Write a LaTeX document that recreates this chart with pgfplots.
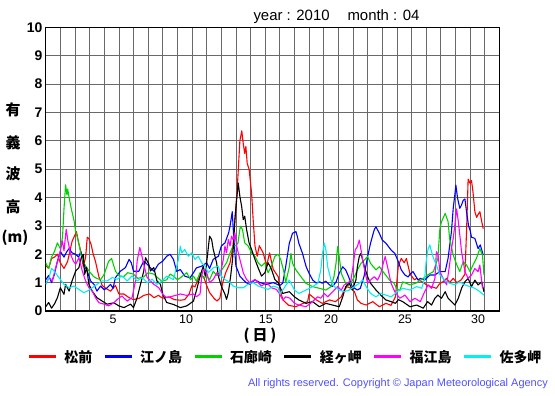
\documentclass[border=0pt]{standalone}
\usepackage{fontspec}
\setmainfont{Liberation Sans}
\newfontfamily\jp{Noto Sans CJK JP}
\usepackage{pgfplots}
\pgfplotsset{compat=1.18}
\definecolor{sred}{RGB}{255,0,0}
\definecolor{sblue}{RGB}{0,0,255}
\definecolor{sgreen}{RGB}{0,210,0}
\definecolor{sblack}{RGB}{0,0,0}
\definecolor{smag}{RGB}{255,0,255}
\definecolor{scyan}{RGB}{0,240,240}
\definecolor{gridc}{RGB}{105,105,105}
\definecolor{copyc}{RGB}{80,80,255}
\begin{document}
\begin{tikzpicture}[x=1bp,y=1bp]
\path[use as bounding box] (0,0) rectangle (555,395);
\begin{axis}[
  at={(45.7bp,84bp)}, anchor=south west,
  width=453.6bp, height=283.7bp, scale only axis,
  xmin=0, xmax=31, ymin=0, ymax=10,
  xtick={4.6,9.6,15.05,19.5,24.55,29.55}, xticklabels={5,10,15,20,25,30},
  minor xtick={1,...,30},
  ytick={0,...,10},
  xmajorgrids=false, xminorgrids=true, ymajorgrids=true,
  grid style={draw=gridc, line width=0.7bp},
  minor grid style={draw=gridc, line width=0.7bp},
  major tick length=0pt, minor tick length=0pt,
  axis line style={line width=1.3bp},
  /pgf/number format/assume math mode=true,
  xticklabel style={font=\fontsize{12.5}{13}\selectfont, anchor=north, inner sep=0pt, yshift=-4bp},
  yticklabel style={font=\bfseries\fontsize{14}{14}\selectfont, anchor=east, inner sep=0pt, xshift=-3bp},
  legend columns=6,
  legend style={at={(-0.041,-0.162)}, anchor=west, draw=none, fill=none, inner sep=0pt,
    font=\jp\bfseries\fontsize{14}{14}\selectfont,
    nodes={inner sep=0pt},
    /tikz/every odd column/.append style={column sep=7bp},
    /tikz/every even column/.append style={column sep=11bp}},
  legend image code/.code={\draw[line width=3bp] (0bp,0bp) -- (27bp,0bp);},
  every axis plot/.append style={line width=1.1bp, line join=round},
]
\addplot[sred] coordinates {
(0.0,1.6)(0.2,1.5)(0.4,1.85)(0.6,1.9)(0.8,2.0)(1.0,1.7)(1.25,1.5)(1.5,1.75)(1.8,2.45)(2.1,2.8)(2.25,2.4)(2.4,2.1)(2.57,1.55)(2.73,1.9)(2.84,2.6)(2.95,2.55)(3.1,2.35)(3.25,2.0)(3.4,1.75)(3.64,1.2)(3.86,0.9)(4.1,0.8)(4.43,0.7)(4.77,0.9)(5.0,0.6)(5.34,0.6)(5.7,0.47)(6.0,0.4)(6.4,0.45)(6.7,0.55)(7.1,0.6)(7.4,0.47)(7.7,0.55)(8.0,0.45)(8.4,0.5)(8.8,0.4)(9.2,0.38)(9.5,0.4)(9.8,0.6)(10.0,0.9)(10.2,0.85)(10.4,1.1)(10.6,1.25)(10.8,1.2)(11.0,0.9)(11.2,0.65)(11.5,0.45)(11.7,0.35)(11.9,0.45)(12.1,1.0)(12.3,1.35)(12.6,1.7)(12.8,2.3)(12.93,3.2)(13.1,4.4)(13.27,6.0)(13.4,6.35)(13.5,5.9)(13.6,5.55)(13.68,5.8)(13.77,5.2)(13.9,5.0)(14.07,4.16)(14.18,3.2)(14.3,2.3)(14.45,1.93)(14.6,2.3)(14.86,2.05)(15.1,1.6)(15.3,2.05)(15.55,1.47)(15.9,1.2)(16.0,0.8)(16.2,0.4)(16.6,0.2)(17.1,0.15)(17.5,0.25)(17.9,0.33)(18.0,0.6)(18.5,0.39)(18.9,0.27)(19.4,0.39)(19.8,0.33)(20.2,0.5)(20.4,0.74)(20.6,0.86)(20.85,0.8)(21.1,0.68)(21.3,0.39)(21.55,0.27)(21.9,0.21)(22.35,0.33)(22.8,0.15)(23.25,0.27)(23.6,0.2)(23.9,0.5)(24.1,1.6)(24.3,1.85)(24.5,1.7)(24.65,1.85)(24.9,1.3)(25.2,1.1)(25.35,1.15)(25.8,1.0)(26.1,0.9)(26.4,0.85)(26.7,0.8)(26.9,0.95)(27.2,1.05)(27.4,1.15)(27.6,1.0)(27.85,1.15)(28.1,1.0)(28.4,1.1)(28.65,1.3)(28.76,2.8)(28.87,4.65)(29.0,4.5)(29.1,4.6)(29.2,4.2)(29.33,3.5)(29.45,3.3)(29.55,3.4)(29.67,3.5)(29.8,3.15)(29.9,2.9)
};
\addlegendentry{松前}
\addplot[sblue] coordinates {
(0.0,1.1)(0.2,1.25)(0.4,1.0)(0.6,1.3)(0.8,1.76)(1.0,2.1)(1.25,1.9)(1.45,2.1)(1.6,2.2)(1.8,2.05)(2.05,2.0)(2.25,1.9)(2.4,2.1)(2.6,1.65)(2.84,1.4)(3.07,1.06)(3.3,0.94)(3.5,0.7)(3.75,0.88)(4.0,0.75)(4.2,0.82)(4.43,0.94)(4.6,0.8)(4.77,1.18)(5.1,1.4)(5.45,1.53)(5.7,1.82)(5.85,1.7)(6.0,1.4)(6.36,1.4)(6.7,1.76)(6.93,1.65)(7.2,1.5)(7.4,1.4)(7.7,1.65)(8.0,1.76)(8.27,1.93)(8.5,2.0)(8.73,1.82)(8.95,1.4)(9.2,1.46)(9.5,1.23)(9.86,1.17)(10.1,1.35)(10.3,1.52)(10.66,1.58)(11.0,1.7)(11.2,1.5)(11.45,1.82)(11.8,1.93)(12.0,2.29)(12.25,2.4)(12.5,2.75)(12.6,3.0)(12.75,3.5)(12.85,2.6)(12.93,2.05)(13.0,1.58)(13.1,1.46)(13.27,1.23)(13.5,1.1)(13.7,1.0)(13.95,0.94)(14.3,1.1)(14.64,1.0)(15.1,0.94)(15.55,1.0)(16.0,0.9)(16.2,0.98)(16.4,1.56)(16.65,2.39)(16.87,2.74)(17.1,2.8)(17.2,2.62)(17.3,2.39)(17.55,2.03)(17.8,1.56)(18.0,1.33)(18.25,1.09)(18.5,0.98)(18.7,1.03)(18.9,0.98)(19.15,1.05)(19.4,0.92)(19.6,0.86)(19.85,1.03)(20.06,1.33)(20.3,1.56)(20.5,1.45)(20.7,1.21)(20.95,0.86)(21.3,0.74)(21.5,0.8)(21.75,1.21)(22.0,1.92)(22.2,2.39)(22.45,2.86)(22.57,2.97)(22.8,2.74)(23.0,2.5)(23.25,2.39)(23.6,2.15)(23.86,2.03)(24.05,1.8)(24.3,1.45)(24.55,1.27)(24.77,1.2)(24.9,1.3)(25.1,1.39)(25.45,1.09)(25.6,1.15)(25.9,1.09)(26.25,1.27)(26.6,1.27)(26.94,1.39)(27.3,1.39)(27.5,1.86)(27.73,2.8)(27.85,3.62)(27.96,4.09)(28.03,4.44)(28.15,3.97)(28.3,3.62)(28.42,3.74)(28.53,3.9)(28.65,3.95)(28.76,3.5)(28.9,3.0)(29.0,2.85)(29.1,2.6)(29.33,2.56)(29.55,2.2)(29.7,2.33)(29.9,1.97)
};
\addlegendentry{江ノ島}
\addplot[sgreen] coordinates {
(0.0,1.7)(0.2,1.5)(0.4,1.9)(0.6,2.1)(0.8,2.4)(1.0,2.2)(1.15,2.6)(1.25,3.6)(1.36,4.45)(1.45,4.1)(1.5,4.3)(1.6,4.0)(1.75,3.6)(1.93,3.2)(2.05,2.8)(2.16,2.6)(2.3,2.3)(2.4,2.0)(2.6,1.7)(2.84,1.5)(3.05,1.35)(3.3,1.2)(3.5,1.15)(3.75,1.1)(4.0,1.3)(4.3,1.75)(4.5,1.85)(4.65,1.6)(4.77,1.4)(5.0,1.25)(5.3,1.2)(5.6,1.35)(6.0,1.3)(6.3,1.15)(6.7,1.2)(7.0,1.35)(7.4,1.3)(7.7,1.15)(7.95,1.05)(8.27,1.1)(8.5,1.3)(8.73,1.23)(9.0,1.1)(9.2,1.17)(9.64,1.35)(9.9,1.1)(10.1,1.23)(10.3,1.05)(10.55,1.35)(10.8,1.15)(11.0,1.23)(11.2,1.1)(11.45,1.4)(11.7,1.25)(11.9,1.35)(12.1,1.5)(12.36,1.7)(12.6,2.05)(12.8,2.29)(13.0,2.3)(13.14,2.4)(13.3,2.99)(13.45,2.87)(13.6,2.4)(13.84,2.29)(14.07,2.05)(14.3,1.93)(14.52,1.7)(14.75,1.58)(14.98,1.7)(15.2,1.35)(15.43,1.58)(15.66,1.93)(15.89,2.0)(16.07,1.8)(16.3,1.33)(16.4,1.0)(16.65,1.56)(16.76,2.03)(16.87,1.68)(17.1,1.45)(17.44,1.21)(17.78,0.98)(18.24,0.86)(18.7,0.8)(19.15,0.74)(19.5,0.86)(19.7,1.21)(19.84,1.68)(19.95,2.27)(20.06,1.92)(20.2,1.33)(20.4,1.09)(20.6,0.86)(20.85,0.98)(21.1,1.21)(21.3,1.45)(21.55,1.68)(21.78,1.8)(22.0,1.92)(22.2,1.68)(22.57,1.45)(22.8,1.56)(23.14,1.33)(23.5,1.09)(23.8,0.98)(24.0,0.78)(24.2,0.72)(24.4,1.03)(24.9,0.92)(25.3,0.98)(25.8,1.15)(26.1,1.27)(26.5,1.39)(26.8,1.86)(26.94,2.91)(27.05,3.15)(27.3,3.44)(27.5,3.15)(27.6,2.56)(27.85,1.97)(28.1,1.62)(28.3,1.39)(28.53,1.74)(28.76,1.62)(29.0,1.39)(29.2,1.62)(29.44,1.86)(29.67,2.2)(29.85,1.97)(29.95,1.27)
};
\addlegendentry{石廊崎}
\addplot[sblack] coordinates {
(0.0,0.15)(0.2,0.3)(0.4,0.1)(0.6,0.25)(0.8,0.47)(1.0,0.82)(1.25,0.59)(1.36,0.94)(1.6,0.7)(1.8,1.06)(2.05,1.41)(2.27,1.53)(2.43,1.88)(2.57,2.0)(2.66,1.29)(2.8,1.53)(2.95,0.94)(3.18,0.7)(3.5,0.47)(3.86,0.35)(4.2,0.24)(4.66,0.29)(5.0,0.18)(5.34,0.12)(5.8,0.24)(6.0,0.12)(6.25,0.47)(6.48,0.94)(6.7,1.41)(6.82,1.88)(7.05,1.65)(7.16,1.41)(7.39,1.53)(7.6,1.06)(7.84,0.94)(8.0,0.59)(8.27,0.3)(8.73,0.23)(9.2,0.12)(9.64,0.18)(10.1,0.35)(10.32,0.76)(10.55,1.23)(10.77,1.58)(10.9,1.23)(11.1,2.17)(11.2,2.64)(11.34,2.52)(11.45,2.17)(11.68,1.7)(11.8,1.23)(12.0,0.88)(12.25,0.59)(12.36,0.41)(12.48,0.64)(12.64,1.23)(12.77,1.82)(12.93,3.22)(13.05,3.93)(13.16,4.51)(13.27,4.04)(13.39,3.69)(13.5,3.22)(13.6,3.34)(13.73,2.87)(13.9,2.4)(14.07,2.17)(14.3,1.82)(14.52,1.52)(14.75,1.23)(14.98,1.35)(15.2,1.7)(15.43,1.47)(15.66,1.11)(15.89,1.0)(16.0,0.86)(16.2,0.62)(16.65,0.68)(17.0,0.5)(17.3,0.39)(17.8,0.27)(18.24,0.33)(18.7,0.15)(19.15,0.27)(19.6,0.21)(20.06,0.15)(20.3,0.5)(20.5,0.86)(20.75,0.98)(20.95,0.74)(21.2,1.09)(21.3,1.56)(21.43,1.92)(21.55,2.03)(21.66,1.8)(21.78,1.56)(22.0,1.21)(22.2,0.98)(22.57,0.74)(22.9,0.56)(23.25,0.39)(23.6,0.33)(23.9,0.27)(24.1,0.4)(24.4,0.33)(24.9,0.15)(25.35,0.21)(25.8,0.1)(26.1,0.33)(26.37,0.21)(26.6,0.45)(26.8,0.56)(27.05,0.45)(27.3,0.68)(27.5,0.45)(27.73,0.33)(27.96,0.21)(28.2,0.45)(28.42,0.8)(28.65,1.03)(28.87,1.15)(29.1,0.86)(29.33,1.09)(29.55,0.92)(29.8,1.03)(29.95,0.68)
};
\addlegendentry{経ヶ岬}
\addplot[smag] coordinates {
(0.0,0.94)(0.23,1.18)(0.45,1.05)(0.68,1.53)(0.9,1.88)(1.14,2.47)(1.25,2.12)(1.4,2.88)(1.52,2.47)(1.7,2.0)(1.89,1.76)(2.05,1.65)(2.27,1.88)(2.5,1.41)(2.73,1.06)(2.95,0.82)(3.18,0.7)(3.4,0.47)(3.64,0.29)(4.0,0.24)(4.3,0.18)(4.66,0.29)(4.9,0.41)(5.2,0.53)(5.57,0.35)(5.9,0.47)(6.14,1.06)(6.25,1.76)(6.43,2.24)(6.52,2.06)(6.7,1.65)(6.93,1.18)(7.16,1.06)(7.39,0.94)(7.73,0.82)(8.0,0.59)(8.27,0.47)(8.73,0.53)(9.2,0.6)(9.64,0.55)(10.1,0.6)(10.3,0.5)(10.55,0.6)(10.66,1.23)(10.77,1.47)(11.0,1.35)(11.2,1.0)(11.45,1.11)(11.7,1.35)(11.9,1.23)(12.14,1.82)(12.25,2.29)(12.36,2.05)(12.48,2.52)(12.6,2.29)(12.7,2.64)(12.8,2.52)(12.93,2.75)(13.05,2.29)(13.16,2.05)(13.27,1.82)(13.39,1.58)(13.5,1.35)(13.73,1.11)(13.95,1.0)(14.3,1.11)(14.52,1.0)(14.75,0.88)(15.1,1.0)(15.43,0.82)(15.77,0.76)(16.0,0.59)(16.2,0.39)(16.4,0.5)(16.7,0.45)(17.0,0.27)(17.3,0.21)(17.78,0.15)(18.1,0.27)(18.36,0.39)(18.58,0.5)(18.8,0.45)(19.04,0.62)(19.27,0.5)(19.5,0.62)(19.72,0.74)(19.95,0.86)(20.2,0.74)(20.4,0.92)(20.63,0.98)(20.86,1.09)(21.0,1.56)(21.15,2.15)(21.3,2.27)(21.43,2.5)(21.55,2.15)(21.66,1.8)(21.84,1.33)(22.0,0.98)(22.2,1.09)(22.45,1.21)(22.68,1.09)(22.9,1.33)(23.07,1.68)(23.2,1.92)(23.36,1.56)(23.6,0.98)(23.86,0.68)(24.2,0.45)(24.55,0.56)(24.9,0.33)(25.23,0.45)(25.6,0.33)(25.9,0.68)(26.14,0.92)(26.37,0.8)(26.6,1.15)(26.7,2.09)(26.82,1.97)(26.94,1.39)(27.16,1.15)(27.4,0.92)(27.6,1.62)(27.73,2.2)(27.85,2.56)(27.96,3.03)(28.08,3.6)(28.2,3.15)(28.3,2.68)(28.42,2.09)(28.65,1.39)(28.87,1.15)(29.1,1.27)(29.33,1.5)(29.55,1.39)(29.67,1.62)(29.85,0.8)
};
\addlegendentry{福江島}
\addplot[scyan] coordinates {
(0.0,0.94)(0.23,1.18)(0.4,1.5)(0.57,1.41)(0.9,1.18)(1.25,0.94)(1.6,0.82)(1.93,0.88)(2.27,0.76)(2.6,0.65)(2.84,0.7)(3.18,0.82)(3.5,0.94)(3.86,1.06)(4.2,1.06)(4.55,1.18)(4.9,1.12)(5.2,1.24)(5.57,1.06)(5.9,1.24)(6.25,1.06)(6.6,1.18)(6.93,1.0)(7.27,1.12)(7.6,0.94)(7.95,1.06)(8.27,1.23)(8.73,1.11)(9.07,1.82)(9.2,2.29)(9.3,2.05)(9.5,2.17)(9.75,1.93)(9.98,2.05)(10.2,1.82)(10.43,1.93)(10.66,1.7)(10.9,1.58)(11.1,1.35)(11.45,1.52)(11.8,1.58)(12.0,1.23)(12.25,1.11)(12.6,1.0)(12.8,0.88)(13.14,0.82)(13.5,0.82)(13.84,0.94)(14.18,1.0)(14.52,0.88)(14.86,0.82)(15.2,0.76)(15.55,0.88)(15.89,0.82)(16.0,0.62)(16.2,0.74)(16.65,1.09)(17.0,0.74)(17.3,0.62)(17.8,0.74)(18.24,0.86)(18.6,0.98)(18.8,1.45)(18.92,2.03)(19.04,2.39)(19.15,2.15)(19.27,1.56)(19.5,1.09)(19.72,0.86)(20.06,0.74)(20.4,0.68)(20.75,0.74)(21.1,0.86)(21.43,0.98)(21.66,1.09)(21.9,0.86)(22.2,0.62)(22.57,0.5)(22.9,0.62)(23.25,0.56)(23.6,0.5)(23.9,0.62)(24.0,0.68)(24.4,0.8)(24.9,0.74)(25.35,0.86)(25.7,0.8)(25.9,1.15)(26.0,1.74)(26.14,2.2)(26.25,2.33)(26.37,2.09)(26.5,1.86)(26.7,1.62)(26.94,1.27)(27.16,1.15)(27.4,1.03)(27.6,0.98)(27.96,0.92)(28.3,1.03)(28.65,0.92)(29.0,0.86)(29.33,0.8)(29.67,0.68)(29.95,0.56)
};
\addlegendentry{佐多岬}
\end{axis}
\node[anchor=base west, font=\fontsize{15}{15}\selectfont] at (250,375) {year : 2010};
\node[anchor=base west, font=\fontsize{15}{15}\selectfont] at (344,375) {month : 04};
\begin{scope}[every node/.style={font=\jp\bfseries\fontsize{15}{15}\selectfont, inner sep=0pt}]
\node at (13,285) {有};
\node at (13,252) {義};
\node at (13,221) {波};
\node at (13,188) {高};
\node at (15,157) {(m)};
\node at (260,59) {(\hspace{3bp}日\hspace{3bp})};
\end{scope}
\node[anchor=east, inner sep=0pt, text=copyc, font=\fontsize{11}{11}\selectfont] at (548,11) {All rights reserved. Copyright © Japan Meteorological Agency};
\end{tikzpicture}
\end{document}
